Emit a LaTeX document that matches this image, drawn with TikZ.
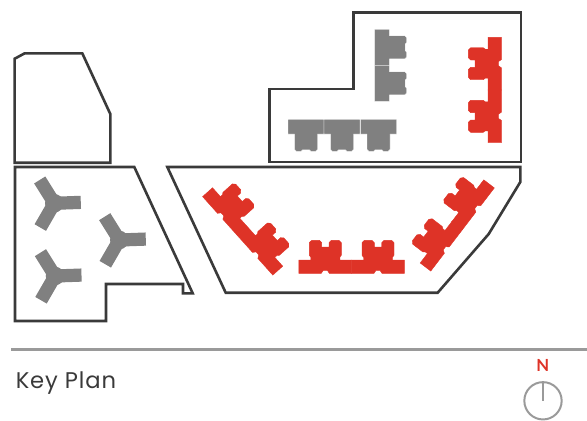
\documentclass[tikz,border=0pt]{standalone}
\usepackage{fontspec}
\setmainfont{Lato}
\newfontfamily\titlefont[LetterSpace=4]{Poppins}
\definecolor{plotline}{HTML}{3A3A3A}
\definecolor{bldggray}{HTML}{808080}
\definecolor{bldgred}{HTML}{DE3327}
\definecolor{rulegray}{HTML}{9A9A9A}
\tikzset{
  plot/.style={draw=plotline,line width=1.95pt,line join=miter},
  seam/.style={draw=white,line width=0.15pt},
}
% colour, x, y, rotation
\newcommand\grayblock[4]{\path[fill=#1,seam,shift={(#2,#3)},rotate=#4]
  (-18,0)--(18,0)--(18,14.7)--(11.5,14.7)--(11.5,30)--(9.5,32)--(5,32)--(3.5,30.5)--(-3.5,30.5)--(-5,32)--(-9.5,32)--(-11.5,30)--(-11.5,14.7)--(-18,14.7)--cycle;}
\newcommand\redblock[3]{\path[fill=bldgred,draw=bldgred,line width=0.3pt,shift={(#1,#2)},rotate=#3]
  (-26.4,0)--(-26.4,13.3)--(-14.5,13.3)--(-14.5,16)--(-16,18)--(-16,30.7)--(-13.5,33)--(-6,33)--(-3.7,30.7)--(-3.7,26.3)--(3.7,26.3)--(3.7,30.7)--(6,33)--(13.5,33)--(16,30.7)--(16,18)--(14.5,16)--(14.5,13.3)--(26.4,13.3)--(26.4,0)--(4,0)--(2,3)--(-2,3)--(-4,0)--cycle;}
\newcommand\triblock[2]{\begin{scope}[shift={(#1,#2)}]
  \fill[bldggray,rotate=2] (0,-6.6)--(26.5,-6.6)--(26.5,6.6)--(0,6.6)--cycle;
  \fill[bldggray,rotate=122] (0,-6.6)--(27.5,-6.6)--(27.5,6.6)--(0,6.6)--cycle;
  \fill[bldggray,rotate=240] (0,-6.6)--(28,-6.6)--(28,6.6)--(0,6.6)--cycle;
  \fill[bldggray] (0,0) circle (9.3);
\end{scope}}
\begin{document}
\begin{tikzpicture}[x=0.75pt,y=-0.75pt]
\useasboundingbox (0,0) rectangle (587,421);
% plots
\draw[plot] (353.7,12.7)--(521,12.7)--(521,162)--(269.3,162)--(269.3,89)--(353.7,89)--cycle;
\draw[plot] (14.7,58.7)--(24.7,53.3)--(82.3,53.3)--(110.3,114)--(110.3,162.7)--(14.7,162.7)--cycle;
\draw[plot] (15,167)--(134.3,167)--(192.7,293.3)--(183,293.3)--(183,284)--(106,284)--(106,321)--(15,321)--cycle;
\draw[plot] (167.3,167)--(520.3,167)--(520.3,182)--(488.7,234)--(437.7,292.7)--(225.7,292.7)--cycle;
% grey blocks
\grayblock{bldggray}{374.7}{47.3}{90}
\grayblock{bldggray}{374.7}{83.3}{90}
\grayblock{bldggray}{306}{119.3}{0}
\grayblock{bldggray}{342}{119.3}{0}
\grayblock{bldggray}{378.5}{119.3}{0}
\triblock{54.3}{203.3}
\triblock{119.3}{240}
\triblock{55}{276}
% red blocks
\redblock{501.3}{63.7}{-90}
\redblock{501.3}{116.3}{-90}
\redblock{325.3}{273.3}{180}
\redblock{378}{273.3}{180}
\redblock{220.2}{216.3}{131.8}
\redblock{255.2}{255.4}{131.8}
\redblock{478.3}{208.9}{232.6}
\redblock{446.8}{250.1}{232.6}
% footer
\coordinate (ruleL) at (11,349.5);
\coordinate (ruleR) at (587,349.5);
\draw[rulegray,line width=1.9pt] (ruleL)--(ruleR);
\node[anchor=base west,inner sep=0pt,text=plotline,font=\titlefont\fontsize{17pt}{18pt}\selectfont] (title) at (15.5,388.8) {Key Plan};
\node[anchor=base,inner sep=0pt,text=bldgred,font=\fontsize{12.5pt}{14pt}\selectfont\bfseries] (north) at (542.7,371.3) {N};
\node[circle,draw=rulegray,line width=1.5pt,minimum size=28pt,inner sep=0pt] (dial) at (543,400.8) {};
\draw[rulegray,line width=1.5pt] (dial.north)--(dial.center);
\end{tikzpicture}
\end{document}
